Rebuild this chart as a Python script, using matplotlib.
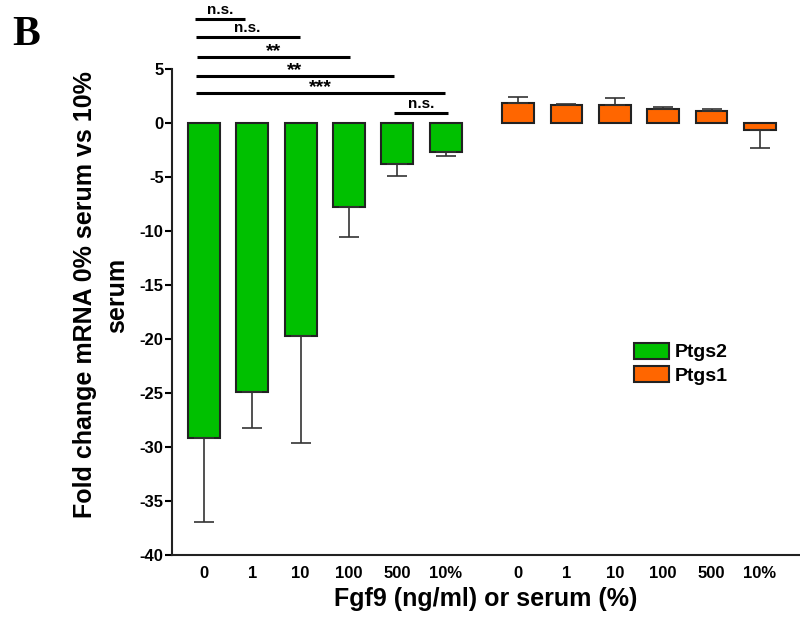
import matplotlib
matplotlib.use("Agg")
import matplotlib.pyplot as plt
import numpy as np

plt.rcParams['font.family'] = ['Liberation Sans', 'DejaVu Sans']
plt.rcParams['font.weight'] = 'bold'
plt.rcParams['axes.unicode_minus'] = False

categories = ["0", "1", "10", "100", "500", "10%"]
ptgs2_mean = [-29.2, -24.9, -19.7, -7.8, -3.8, -2.7]
ptgs2_err = [7.7, 3.3, 9.9, 2.8, 1.1, 0.4]
ptgs1_mean = [1.88, 1.64, 1.67, 1.26, 1.14, -0.68]
ptgs1_err = [0.5, 0.15, 0.6, 0.25, 0.12, 1.6]

# significance brackets: (x start, x end, y, label)
sig_x0 = [-0.19, -0.17, -0.15, -0.17, -0.17, 3.93]
sig_x1 = [0.85, 1.98, 3.02, 3.93, 4.98, 5.04]
sig_y = [9.63, 7.96, 6.11, 4.35, 2.78, 0.93]
sig_lbl = ["n.s.", "n.s.", "**", "**", "***", "n.s."]

green = "#00C000"
orange = "#FF6600"

fig = plt.figure(figsize=(8, 6.21), dpi=100)
ax = fig.add_axes([0.215, 0.106, 0.785, 0.783])

x1 = np.arange(len(categories))
x2 = x1 + len(categories) + 0.5
w = 0.66

def one_sided(vals, errs):
    lo = [e if v < 0 else 0 for v, e in zip(vals, errs)]
    hi = [e if v >= 0 else 0 for v, e in zip(vals, errs)]
    return [lo, hi]

ax.bar(x1, ptgs2_mean, w, color=green, edgecolor="#222222", linewidth=1.5,
       yerr=one_sided(ptgs2_mean, ptgs2_err), capsize=7.5,
       error_kw=dict(ecolor="#333333", elinewidth=1.2, capthick=1.2), label="Ptgs2", zorder=2)
ax.bar(x2, ptgs1_mean, w, color=orange, edgecolor="#222222", linewidth=1.5,
       yerr=one_sided(ptgs1_mean, ptgs1_err), capsize=7.5,
       error_kw=dict(ecolor="#333333", elinewidth=1.2, capthick=1.2), label="Ptgs1", zorder=2)

ax.set_ylim(-40, 5)
ax.set_xlim(-0.66, 12.33)
ax.set_yticks(np.arange(-40, 6, 5))
ax.set_xticks(np.concatenate([x1, x2]))
ax.set_xticklabels(categories + categories, fontsize=12, fontweight='bold')
ax.tick_params(axis='x', length=0, pad=8)
ax.tick_params(axis='y', length=5, width=1.5, labelsize=12, pad=1)
for t in ax.get_yticklabels():
    t.set_fontweight('bold')
for s in ["top", "right"]:
    ax.spines[s].set_visible(False)
for s in ["left", "bottom"]:
    ax.spines[s].set_linewidth(1.5)
    ax.spines[s].set_color("#222222")

for a, b, y, l in zip(sig_x0, sig_x1, sig_y, sig_lbl):
    ax.plot([a, b], [y, y], color="black", lw=2.2, clip_on=False, solid_capstyle='butt')
    fs = 11 if l == "n.s." else 14
    dy = 0.15 if l == "n.s." else -0.25
    ax.text((a + b) / 2, y + dy, l, ha="center", va="bottom", fontsize=fs,
            fontweight='bold', clip_on=False)

ax.set_xlabel("Fgf9 (ng/ml) or serum (%)", fontsize=18, fontweight='bold', labelpad=4)
ax.set_ylabel("Fold change mRNA 0% serum vs 10%\nserum", fontsize=18,
              fontweight='bold', linespacing=1.45)
ax.yaxis.set_label_coords(-0.068, 0.535)

leg = ax.legend(loc="upper left", bbox_to_anchor=(0.735, 0.437), frameon=False,
                prop=dict(size=14, weight='bold'), handlelength=1.8, handleheight=0.9,
                labelspacing=0.25, handletextpad=0.3, borderpad=0, borderaxespad=0)

fig.text(0.015, 0.975, "B", fontsize=30, fontweight='bold', family='Liberation Serif',
         ha="left", va="top")

fig.savefig("out.png", dpi=100)
